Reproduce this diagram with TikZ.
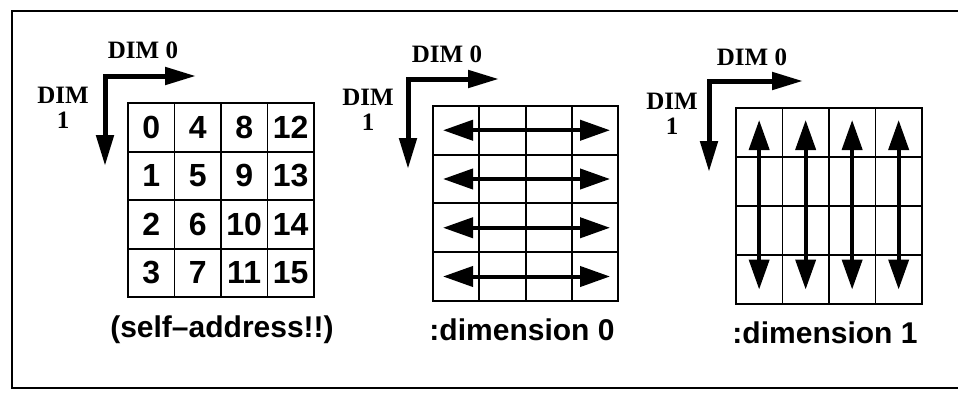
\documentclass[tikz,border=0pt]{standalone}
\usepackage{fontspec}
\setmainfont{Liberation Serif}
\setsansfont{Liberation Sans}
\usetikzlibrary{arrows.meta}
\begin{document}
\begin{tikzpicture}[x=1pt,y=-1pt,
  cell/.style={draw, line width=1.8pt, minimum width=46.5pt, minimum height=48.7pt,
    inner sep=0pt, anchor=north west, font=\sffamily\bfseries\fontsize{32}{32}\selectfont},
  axis/.style={line width=5pt, line join=miter,
    {Triangle[length=31pt,width=17pt]}-{Triangle[length=31pt,width=17pt]}},
  dbl/.style={line width=4pt,
    {Triangle[length=30pt,width=20pt]}-{Triangle[length=30pt,width=20pt]}},
  dimlbl/.style={font=\rmfamily\bfseries\fontsize{25}{25}\selectfont, align=center, inner sep=0pt},
  caption/.style={font=\sffamily\bfseries\fontsize{30}{30}\selectfont, inner sep=0pt}]
\useasboundingbox (0,0) rectangle (958,396);
\draw[line width=1.8pt] (12,11) rectangle (980,388);

% ---------- panel 1 ----------
\foreach \c in {0,...,3}{
  \foreach \r in {0,...,3}{
    \pgfmathtruncatemacro{\n}{4*\c+\r}
    \node[cell] (a\r\c) at (127+46.5*\c,102+48.5*\r) {\n};
  }
}
\coordinate (o1) at (105,76);
\coordinate (x1) at (196,76);
\coordinate (y1) at (105,166);
\draw[axis] (y1) -- (o1) -- (x1);
\node[dimlbl] (d10) at (143,50) {DIM 0};
\node[dimlbl] (d11) at (63,108) {DIM\\1};
\node[caption] (cap1) at (222,330) {(self–address!!)};

% ---------- panel 2 ----------
\foreach \c in {0,...,3}{
  \foreach \r in {0,...,3}{
    \node[cell] (b\r\c) at (432+46.25*\c,105+48.75*\r) {};
  }
}
\foreach \r in {0,...,3}{
  \coordinate (bl\r) at ([xshift=11pt]b\r0.west);
  \coordinate (br\r) at ([xshift=-9pt]b\r3.east);
  \draw[dbl] (bl\r) -- (br\r);
}
\coordinate (o2) at (408,79);
\coordinate (x2) at (499,79);
\coordinate (y2) at (408,169);
\draw[axis] (y2) -- (o2) -- (x2);
\node[dimlbl] (d20) at (447,54) {DIM 0};
\node[dimlbl] (d21) at (368,110) {DIM\\1};
\node[caption] (cap2) at (522,330) {:dimension 0};

% ---------- panel 3 ----------
\foreach \c in {0,...,3}{
  \foreach \r in {0,...,3}{
    \node[cell] (c\r\c) at (735+46.5*\c,107+49*\r) {};
  }
}
\foreach \c in {0,...,3}{
  \coordinate (ct\c) at ([yshift=-13pt]c0\c.north);
  \coordinate (cb\c) at ([yshift=15pt]c3\c.south);
  \draw[dbl] (ct\c) -- (cb\c);
}
\coordinate (o3) at (709,81);
\coordinate (x3) at (803,81);
\coordinate (y3) at (709,172);
\draw[axis] (y3) -- (o3) -- (x3);
\node[dimlbl] (d30) at (752,57) {DIM 0};
\node[dimlbl] (d31) at (672,114) {DIM\\1};
\node[caption] (cap3) at (825,333) {:dimension 1};
\end{tikzpicture}
\end{document}
